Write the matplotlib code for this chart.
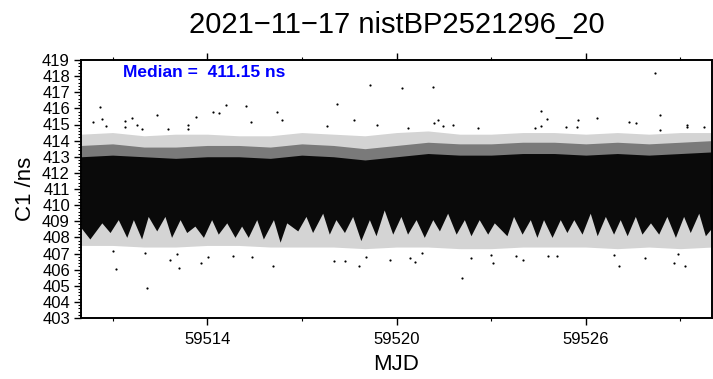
import numpy as np
import matplotlib
matplotlib.use("Agg")
import matplotlib.pyplot as plt
from matplotlib.ticker import MultipleLocator, FixedLocator

plt.rcParams['font.family'] = ['Liberation Sans', 'DejaVu Sans']

title = "2021\u221211\u221217 nistBP2521296_20"
median_text = "Median =  411.15 ns"
x_ticks_labeled = [59514, 59520, 59526]
y_ticks = list(range(403, 420))

# Lower edge of the dense band (finger tips / gaps)
edge_mjd = [59510.00, 59510.28, 59510.66, 59510.92, 59511.18, 59511.45, 59511.66, 59511.92,
            59512.13, 59512.40, 59512.66, 59512.87, 59513.14, 59513.35, 59513.61, 59513.88,
            59514.14, 59514.35, 59514.62, 59514.88, 59515.09, 59515.30, 59515.57, 59515.78,
            59516.10, 59516.31, 59516.52, 59516.87, 59517.13, 59517.34, 59517.66, 59517.87,
            59518.08, 59518.35, 59518.61, 59518.87, 59519.14, 59519.35, 59519.61, 59519.88,
            59520.14, 59520.35, 59520.62, 59520.88, 59521.15, 59521.36, 59521.62, 59521.89,
            59522.15, 59522.36, 59522.62, 59522.89, 59523.10, 59523.50, 59523.71, 59523.98,
            59524.24, 59524.45, 59524.66, 59524.93, 59525.19, 59525.40, 59525.62, 59525.88,
            59526.14, 59526.36, 59526.62, 59526.88, 59527.09, 59527.31, 59527.57, 59527.78,
            59528.05, 59528.31, 59528.57, 59528.84, 59529.10, 59529.31, 59529.58, 59529.79,
            59530.00]
edge_low = [408.6, 407.9, 408.9, 408.3, 409.1, 408.0, 409.1, 407.9,
            409.3, 408.4, 409.3, 408.0, 409.1, 408.3, 408.7, 408.0,
            409.1, 408.2, 408.9, 408.0, 408.7, 408.0, 409.1, 407.9,
            409.1, 407.7, 408.9, 408.4, 409.3, 408.3, 409.5, 408.2,
            409.1, 408.3, 409.3, 407.8, 409.1, 408.1, 409.7, 408.2,
            409.3, 408.2, 409.1, 408.0, 409.1, 408.4, 409.5, 408.2,
            409.1, 408.1, 409.1, 408.2, 408.9, 408.1, 409.3, 408.2,
            409.1, 408.0, 409.1, 408.0, 409.1, 408.3, 409.1, 408.2,
            409.5, 408.1, 409.3, 408.2, 409.1, 408.1, 409.3, 408.2,
            408.9, 408.2, 409.3, 408.0, 409.3, 408.3, 409.5, 408.1,
            408.6]

# Upper edge of dense band and fringe limits (per day)
day_mjd = list(range(59510, 59531))
top_dense = [413.0, 413.1, 413.0, 412.9, 413.0, 413.0, 412.9, 413.1, 413.0, 412.8, 413.0,
             413.2, 413.1, 413.1, 413.2, 413.2, 413.1, 413.2, 413.1, 413.2, 413.3]
top_mid = [413.7, 413.8, 413.6, 413.6, 413.7, 413.7, 413.6, 413.8, 413.7, 413.5, 413.7,
           413.9, 413.8, 413.8, 413.9, 413.9, 413.8, 413.9, 413.8, 413.9, 414.0]
sparse_high = [414.4, 414.5, 414.3, 414.4, 414.4, 414.3, 414.3, 414.5, 414.4, 414.3, 414.5,
               414.6, 414.4, 414.4, 414.5, 414.5, 414.4, 414.5, 414.4, 414.5, 414.5]
sparse_low = [407.5, 407.5, 407.4, 407.4, 407.5, 407.5, 407.4, 407.4, 407.4, 407.3, 407.4,
              407.4, 407.3, 407.3, 407.4, 407.4, 407.4, 407.3, 407.4, 407.3, 407.4]

# Isolated outlier points
out_mjd = [59510.60, 59510.39, 59510.66, 59510.79, 59514.60, 59515.22, 59516.20, 59512.40,
           59511.61, 59513.65, 59514.19, 59514.38, 59511.39, 59511.39, 59513.40, 59513.40,
           59515.39, 59516.38, 59512.77, 59511.92, 59511.79,
           59528.19, 59528.35, 59524.59, 59524.77, 59524.59, 59525.76, 59526.36, 59524.38,
           59527.36, 59527.59, 59529.20, 59529.20, 59529.75, 59525.37, 59525.71, 59528.35,
           59519.16, 59520.17, 59521.16, 59518.11,
           59518.66, 59519.38, 59517.79, 59521.31, 59521.18, 59521.46, 59521.78, 59520.35, 59522.59,
           59511.10, 59512.10, 59513.11, 59512.82, 59513.80, 59516.10, 59511.02, 59512.03,
           59513.03, 59515.41, 59514.04, 59514.83,
           59518.81, 59518.01, 59518.38, 59519.80, 59520.44, 59520.59, 59522.08, 59522.36,
           59523.07, 59523.00, 59519.03, 59520.80,
           59527.06, 59529.13, 59524.00, 59525.09, 59524.79, 59527.89, 59528.79, 59528.91,
           59523.79, 59526.88]
out_val = [416.06, 415.15, 415.33, 414.90, 416.20, 416.14, 415.80, 415.56,
           415.38, 415.46, 415.77, 415.73, 415.20, 414.86, 415.00, 414.74,
           415.13, 415.25, 414.74, 414.74, 415.00,
           418.17, 415.56, 415.85, 415.33, 414.92, 415.27, 415.40, 414.78,
           415.13, 415.09, 415.00, 414.86, 414.82, 414.86, 414.86, 414.63,
           417.45, 417.26, 417.30, 416.27,
           415.27, 414.98, 414.92, 415.27, 415.10, 414.90, 414.98, 414.76, 414.80,
           406.06, 404.86, 406.10, 406.58, 406.41, 406.25, 407.15, 407.05,
           407.00, 406.78, 406.78, 406.85,
           406.20, 406.54, 406.54, 406.58, 406.70, 406.50, 405.50, 406.72,
           406.43, 406.90, 406.78, 407.03,
           406.20, 406.20, 406.62, 406.83, 406.83, 406.70, 406.40, 406.95,
           406.85, 406.90]

fig = plt.figure(figsize=(7.13, 3.79), dpi=100)
ax = fig.add_axes([81/713, 1-318/379, 631/713, 258/379])

mid = 411.0
# sparse outer fringe (scattered points appear light grey at this scale)
ax.fill_between(day_mjd, sparse_low, sparse_high, color='#d4d4d4', linewidth=0, zorder=1)
# denser inner fringe above the band
ax.fill_between(day_mjd, mid, top_mid, color='#7a7a7a', linewidth=0, zorder=1.5)
# dense band: fingers below, solid core above
ax.fill_between(edge_mjd, edge_low, mid + 0.3, color='#0a0a0a', linewidth=0, zorder=2)
ax.fill_between(day_mjd, mid - 0.3, top_dense, color='#0a0a0a', linewidth=0, zorder=2)
# outliers
ax.scatter(out_mjd, out_val, s=2.5, color='black', linewidths=0, zorder=3)

ax.set_xlim(59510, 59530)
ax.set_ylim(403, 419)

ax.xaxis.set_major_locator(FixedLocator(x_ticks_labeled))
ax.xaxis.set_minor_locator(MultipleLocator(3))
ax.set_yticks(y_ticks)
ax.yaxis.set_minor_locator(MultipleLocator(0.2))

ax.tick_params(axis='both', which='major', direction='out', length=5, width=1.0,
               labelsize=12, colors='black')
ax.tick_params(axis='both', which='minor', direction='out', length=2.5, width=0.8)
ax.tick_params(axis='x', which='both', top=True, bottom=True)
ax.tick_params(axis='y', which='both', right=False, left=True)
ax.tick_params(axis='x', which='major', pad=5)
ax.tick_params(axis='y', which='major', pad=3)

for s in ax.spines.values():
    s.set_linewidth(1.4)

ax.set_xlabel("MJD", fontsize=16, labelpad=5)
ax.set_ylabel("C1 /ns", fontsize=16, labelpad=4)
fig.text(396.5/713, 1-25/379, title, fontsize=21, ha='center', va='center')
ax.text(0.067, 0.952, median_text, transform=ax.transAxes, fontsize=12.5,
        fontweight='bold', color='#0000ff', ha='left', va='center', zorder=4)

fig.savefig("out.png", dpi=100)
